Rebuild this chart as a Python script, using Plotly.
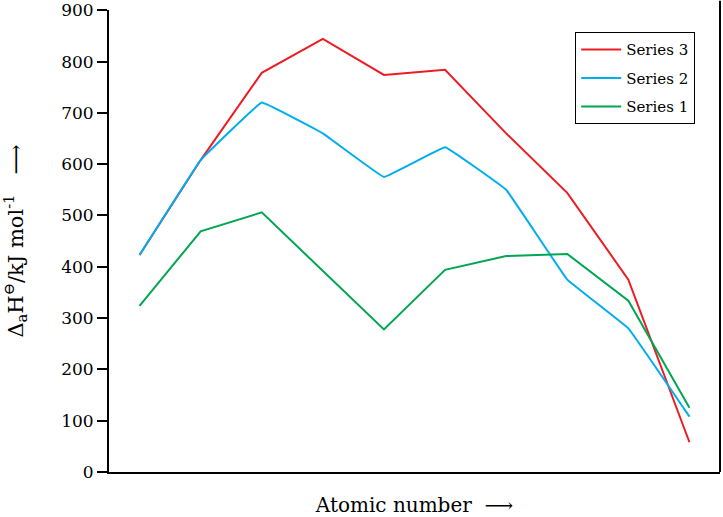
import plotly.graph_objects as go

x = list(range(1, 11))
series3 = [423, 608, 778, 844, 774, 784, 660, 544, 375, 58]
series2 = [423, 608, 720, 660, 575, 633, 550, 375, 280, 108]
series1 = [324, 469, 506, 392, 278, 394, 421, 425, 334, 125]
y_ticks = [0, 100, 200, 300, 400, 500, 600, 700, 800, 900]

font = "DejaVu Serif"
fig = go.Figure()
fig.add_trace(go.Scatter(x=x, y=series3, mode="lines", name="Series 3", legendgroup="s3",
                         line=dict(color="#ED1C24", width=2)))
fig.add_trace(go.Scatter(x=x, y=series2, mode="lines", name="Series 2", legendgroup="s2",
                         line=dict(color="#00AEEF", width=2, shape="spline", smoothing=0.15)))
fig.add_trace(go.Scatter(x=x, y=series1, mode="lines", name="Series 1", legendgroup="s1",
                         line=dict(color="#00A651", width=2)))

fig.update_layout(
    width=723, height=517,
    margin=dict(l=109, r=3, t=10, b=45, autoexpand=False),
    plot_bgcolor="white", paper_bgcolor="white",
    font=dict(family=font, color="black", size=16),
    showlegend=True,
    legend=dict(x=0.763, y=0.952, xanchor="left", yanchor="top",
                bordercolor="black", borderwidth=1, bgcolor="white",
                font=dict(family=font, size=15), tracegroupgap=6, itemwidth=40),
    xaxis=dict(range=[0.5, 10.5], showticklabels=False, ticks="", automargin=False,
               showgrid=False, zeroline=False, showline=True, linecolor="black", linewidth=2,
               title=dict(text="Atomic number  ⟶", font=dict(family=font, size=20), standoff=26)),
    yaxis=dict(range=[0, 900.5], tickvals=y_ticks, ticks="outside", ticklen=10, tickwidth=2,
               tickcolor="black", showgrid=False, zeroline=False, showline=True, automargin=False,
               linecolor="black", linewidth=2, ticklabeloverflow="allow",
               tickfont=dict(family=font, size=17),
               title=dict(text="Δ<sub>a</sub>H<sup>⊖</sup>/kJ mol<sup>-1</sup>   ⟶",
                          font=dict(family=font, size=21), standoff=34)),
)
fig.add_shape(type="line", xref="paper", yref="paper", x0=1, x1=1, y0=0, y1=1.02,
              line=dict(color="black", width=2))
fig.write_html("out.html")
